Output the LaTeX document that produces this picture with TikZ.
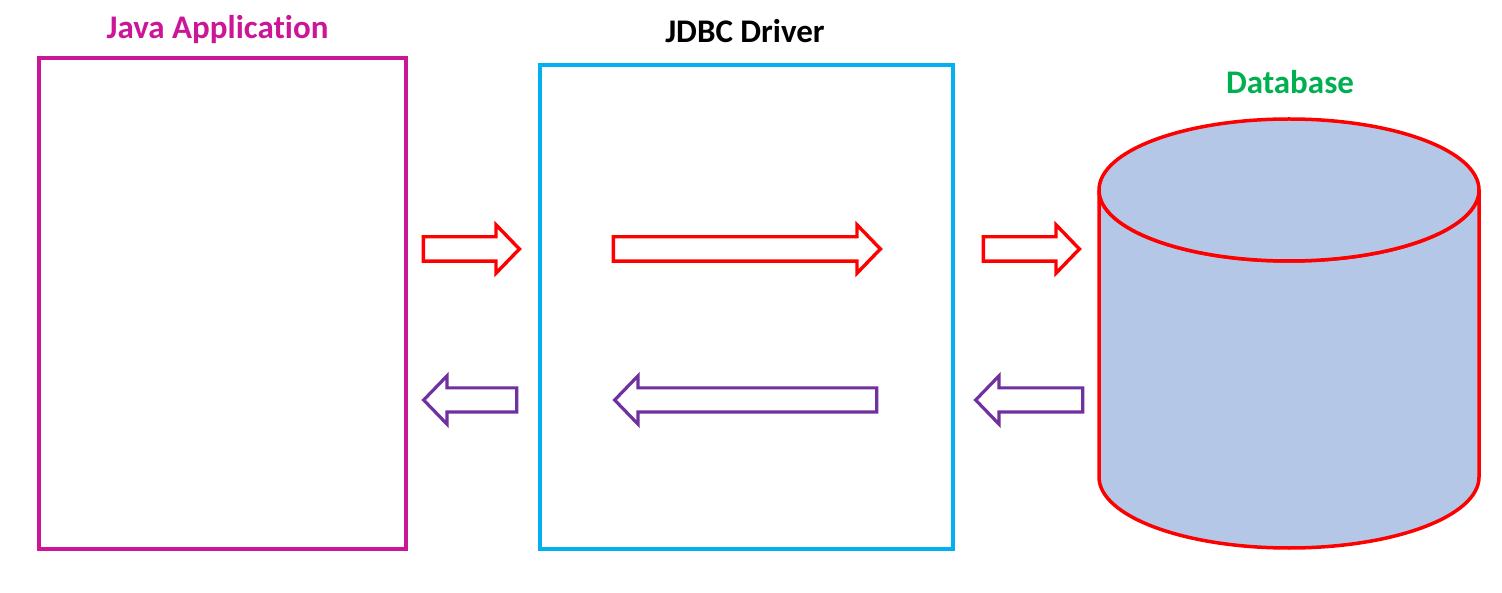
\documentclass[tikz,border=0pt]{standalone}
\usepackage{fontspec}
\setmainfont{Carlito}[Ligatures=NoCommon]
\usetikzlibrary{shapes.arrows}
\definecolor{appmag}{RGB}{204,22,152}
\definecolor{drvcyan}{RGB}{0,176,240}
\definecolor{dbgreen}{RGB}{0,176,80}
\definecolor{dbfill}{RGB}{180,199,231}
\definecolor{backpurple}{RGB}{112,48,160}
\tikzset{
  title/.style={anchor=base,font=\fontsize{33}{38}\selectfont\bfseries},
  fwd/.style={single arrow,draw=red,fill=white,line width=3.4pt,inner xsep=0pt,inner ysep=10.5pt,
    single arrow head extend=12pt,single arrow tip angle=92,minimum height=#1},
  back/.style={single arrow,draw=backpurple,fill=white,line width=3.2pt,inner xsep=0pt,inner ysep=10.5pt,
    single arrow head extend=12pt,single arrow tip angle=92,minimum height=#1,shape border rotate=180}
}
\begin{document}
\begin{tikzpicture}[x=1pt,y=-1pt]
      \useasboundingbox (0,0) rectangle (1502,593);
      % boxes
      \node[draw=appmag,line width=3.5pt,minimum width=367pt,minimum height=491pt] (app) at (222.5,303.5) {};
      \node[draw=drvcyan,line width=3.5pt,minimum width=413pt,minimum height=484pt] (drv) at (746.5,307) {};
      \node[title,text=appmag] (apptitle) at (217.5,39) {Java Application};
      \node[title,text=black] (drvtitle) at (745,43) {JDBC Driver};
      % database
      \path[fill=dbfill,draw=red,line width=3.5pt] (1099,190) -- (1099,477) arc[start angle=180,end angle=0,x radius=190,y radius=71]
        -- (1479,190) arc[start angle=0,end angle=180,x radius=190,y radius=71] -- cycle;
      \draw[fill=dbfill,draw=red,line width=3.5pt] (1289,190) ellipse[x radius=190,y radius=71];
      \node[title,text=dbgreen] (db) at (1290,94) {Database};
      % requests
      \node[fwd=96pt] (req1) at (465.5,249) {};
      \node[fwd=267pt] (req2) at (741,249) {};
      \node[fwd=96pt] (req3) at (1025.5,249) {};
      % results
      \node[back=93pt] (res1) at (476,400) {};
      \node[back=262pt] (res2) at (751.5,400) {};
      \node[back=107pt] (res3) at (1035,400) {};
\end{tikzpicture}
\end{document}
